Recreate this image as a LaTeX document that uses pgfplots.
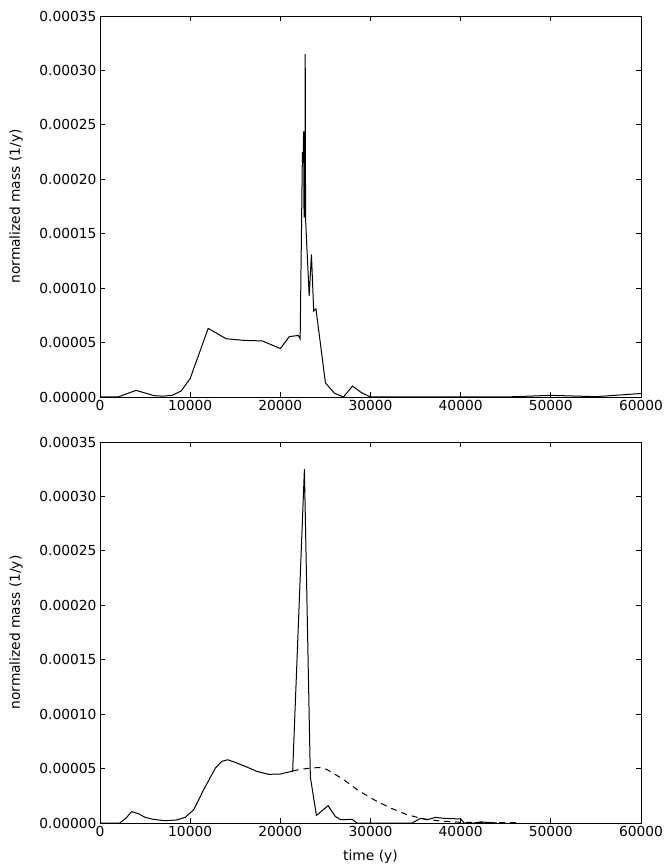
\documentclass[border=0pt]{standalone}
\usepackage{fontspec}
\setmainfont{DejaVu Sans}
\usepackage{pgfplots}
\pgfplotsset{compat=1.18}
\newcommand{\f}{\fontsize{13.8}{16}\selectfont}
\pgfplotsset{
  mystyle/.style={
    scale only axis, width=541pt, height=381pt,
    xmin=0, xmax=60000, ymin=0, ymax=0.00035,
    xtick={0,10000,...,60000},
    ytick={0,0.00005,...,0.00035},
    scaled x ticks=false, scaled y ticks=false,
    tick align=inside, major tick length=5pt,
    tick style={black, line width=0.8pt},
    axis line style={black, line width=0.9pt},
    /pgf/number format/assume math mode=true,
    xticklabel style={font=\f, /pgf/number format/.cd, fixed, set thousands separator={}, precision=0},
    yticklabel style={font=\f, /pgf/number format/.cd, fixed, fixed zerofill, precision=5},
    ylabel={normalized mass (1/y)},
    every axis y label/.style={at={(axis description cs:-0.155,0.5)}, rotate=90, anchor=center, font=\f},
    clip=false,
  }
}
\begin{document}
\begin{tikzpicture}
\useasboundingbox (-100pt,-470pt) rectangle (567pt,397pt);
\begin{axis}[mystyle, at={(0,0)}, anchor=south west]
\addplot[black, line width=1pt] coordinates {
(0,0) (2000,0) (4000,6.1e-6) (6000,1.2e-6) (7000,0.8e-6) (8000,1.5e-6) (9000,5.5e-6)
(10000,1.7e-5) (12000,6.3e-5) (14000,5.35e-5) (16000,5.2e-5) (18000,5.15e-5)
(20000,4.45e-5) (21000,5.55e-5) (22000,5.65e-5) (22200,5.35e-5)
(22450,2.25e-4) (22520,2.15e-4) (22580,2.44e-4) (22630,1.65e-4) (22680,2.44e-4) (22720,1.65e-4)
(22760,3.15e-4) (22800,1.63e-4) (23200,9.3e-5) (23450,1.31e-4) (23700,7.9e-5) (23950,8.1e-5)
(25000,1.3e-5) (26000,3.5e-6) (27000,0) (28000,1.0e-5) (29000,4e-6) (30000,0)
(45000,0) (50000,1.5e-6) (55000,0.3e-6) (60000,3.2e-6)
};
\end{axis}
\begin{axis}[mystyle, at={(0,-426pt)}, anchor=south west,
  xlabel={time (y)},
  every axis x label/.style={at={(axis description cs:0.5,-0.089)}, anchor=center, font=\f}]
\addplot[black, line width=1pt, dash pattern=on 6pt off 5pt] coordinates {
(21370,4.77e-5) (22040,4.9e-5) (23330,5.05e-5) (24440,5.1e-5) (25200,4.9e-5)
(27040,3.98e-5) (28520,3.06e-5) (30370,2.14e-5) (32220,1.38e-5) (34070,7.6e-6)
(35930,3.7e-6) (37780,1.8e-6) (40000,6e-7) (46500,3e-7)
};
\addplot[black, line width=1pt] coordinates {
(0,0) (2200,0) (2900,4.6e-6) (3500,1.04e-5) (4250,8.6e-6) (5000,5.2e-6) (5900,3.4e-6)
(7200,2.1e-6) (8500,2.8e-6) (9450,5.2e-6) (10400,1.22e-5) (11500,3.06e-5) (12800,5.05e-5)
(13500,5.66e-5) (14150,5.81e-5) (15000,5.57e-5) (16300,5.14e-5) (17400,4.74e-5)
(18700,4.47e-5) (20000,4.5e-5) (21370,4.77e-5) (22670,3.25e-4) (23330,4.22e-5)
(24000,7e-6) (25300,1.59e-5) (26100,6e-6) (26700,3e-6) (27950,3.4e-6) (28500,0)
(34600,0) (35550,4.3e-6) (36300,3e-6) (37200,5.2e-6) (38150,4.3e-6) (39070,4e-6)
(40000,3.7e-6) (40400,0) (41500,0) (42300,1e-6) (43000,0.5e-6) (44000,0)
};
\end{axis}
\end{tikzpicture}
\end{document}
